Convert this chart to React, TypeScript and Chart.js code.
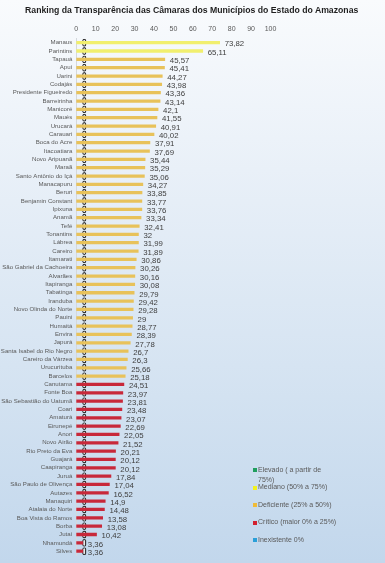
import React, { useEffect, useRef } from "react";
import { Chart, registerables } from "chart.js";

Chart.register(...registerables);

const TITLE = "Ranking da Transparência das Câmaras dos Municípios do Estado do Amazonas";

const MUNICIPALITIES = [
  "Manaus", "Parintins", "Tapauá", "Apuí", "Uarini", "Codajás", "Presidente Figueiredo",
  "Barreirinha", "Manicoré", "Maués", "Urucará", "Carauari", "Boca do Acre", "Itacoatiara",
  "Novo Aripuanã", "Maraã", "Santo Antônio do Içá", "Manacapuru", "Beruri", "Benjamin Constant",
  "Ipixuna", "Anamã", "Tefé", "Tonantins", "Lábrea", "Careiro", "Itamarati",
  "São Gabriel da Cachoeira", "Alvarães", "Itapiranga", "Tabatinga", "Iranduba",
  "Novo Olinda do Norte", "Pauini", "Humaitá", "Envira", "Japurá", "Santa Isabel do Rio Negro",
  "Careiro da Várzea", "Urucurituba", "Barcelos", "Canutama", "Fonte Boa",
  "São Sebastião do Uatumã", "Coari", "Amaturá", "Eirunepé", "Anori", "Novo Airão",
  "Rio Preto da Eva", "Guajará", "Caapiranga", "Juruá", "São Paulo de Olivença", "Autazes",
  "Manaquiri", "Atalaia do Norte", "Boa Vista do Ramos", "Borba", "Jutaí", "Nhamundá", "Silves",
];

const SCORES = [
  73.82, 65.11, 45.57, 45.41, 44.27, 43.98, 43.36,
  43.14, 42.1, 41.55, 40.91, 40.02, 37.91, 37.69,
  35.44, 35.29, 35.06, 34.27, 33.85, 33.77,
  33.76, 33.34, 32.41, 32, 31.99, 31.89, 30.86,
  30.26, 30.16, 30.08, 29.79, 29.42,
  29.28, 29, 28.77, 28.39, 27.78, 26.7,
  26.3, 25.66, 25.18, 24.51, 23.97,
  23.81, 23.48, 23.07, 22.69, 22.05, 21.52,
  20.21, 20.12, 20.12, 17.84, 17.04, 16.52,
  14.9, 14.48, 13.58, 13.08, 10.42, 3.36, 3.36,
];

// small marker column drawn on every row (value range)
const MARKER_FROM = 3.0;
const MARKER_TO = 5.2;

const X_MIN = 0;
const X_MAX = 100;
const X_STEP = 10;

const LEGEND_LABELS = [
  "Elevado ( a partir de 75%)",
  "Mediano (50% a 75%)",
  "Deficiente (25% a 50%)",
  "Crítico (maior 0% a 25%)",
  "Inexistente 0%",
];
const LEGEND_COLORS = ["#1f9e5e", "#f2f21e", "#f0bb38", "#d2202f", "#2a9fd8"];
const BAR_COLORS = ["#1f9e5e", "#f1ef6e", "#e8c25a", "#c8283a", "#2a9fd8"];

function classIndex(v: number): number {
  if (v >= 75) return 0;
  if (v >= 50) return 1;
  if (v >= 25) return 2;
  if (v > 0) return 3;
  return 4;
}

const fmt = (v: number) => String(v).replace(".", ",");

const valueLabelPlugin = {
  id: "valueLabels",
  afterDatasetsDraw(chart: any) {
    const meta = chart.getDatasetMeta(0);
    const ctx = chart.ctx;
    ctx.save();
    ctx.font = "7.8px 'Liberation Sans', Arial, sans-serif";
    ctx.fillStyle = "#404040";
    ctx.textAlign = "left";
    ctx.textBaseline = "middle";
    meta.data.forEach((bar: any, i: number) => {
      ctx.fillText(fmt(SCORES[i]), bar.x + 5, bar.y + 1.6);
    });
    ctx.restore();
  },
};

export default function App() {
  const canvasRef = useRef<HTMLCanvasElement | null>(null);

  useEffect(() => {
    if (!canvasRef.current) return;
    const chart = new Chart(canvasRef.current, {
      type: "bar",
      data: {
        labels: MUNICIPALITIES,
        datasets: [
          {
            data: SCORES,
            backgroundColor: SCORES.map((v) => BAR_COLORS[classIndex(v)]),
            barThickness: 2.6,
            grouped: false,
          } as any,
          {
            data: MUNICIPALITIES.map(() => [MARKER_FROM, MARKER_TO]),
            backgroundColor: "#ececec",
            borderColor: "#383838",
            borderWidth: 1.4,
            borderRadius: 2,
            borderSkipped: false,
            barPercentage: 0.95,
            categoryPercentage: 1,
            grouped: false,
          } as any,
        ],
      },
      options: {
        indexAxis: "y",
        animation: false,
        responsive: true,
        maintainAspectRatio: false,
        layout: { padding: { left: 0, right: 114.5, top: 0, bottom: 7.1 } },
        plugins: {
          legend: { display: false },
          tooltip: { enabled: false },
          title: { display: false },
        },
        scales: {
          x: {
            position: "top",
            min: X_MIN,
            max: X_MAX,
            ticks: {
              stepSize: X_STEP,
              color: "#595959",
              padding: 5,
              font: { family: "'Liberation Sans', Arial, sans-serif", size: 7 },
            },
            grid: { display: false, drawTicks: false },
            border: { display: false },
            afterFit(scale: any) {
              scale.height = 38.5;
            },
          },
          y: {
            ticks: {
              color: "#5a5a5a",
              padding: 4,
              autoSkip: false,
              font: { family: "'Liberation Sans', Arial, sans-serif", size: 6.1 },
            },
            grid: { display: false, drawTicks: false },
            border: { display: true, color: "#d4d8dc", width: 1 },
            afterFit(scale: any) {
              scale.width = 76.3;
            },
          },
        },
      },
      plugins: [valueLabelPlugin],
    } as any);
    return () => chart.destroy();
  }, []);

  return (
    <div
      style={{
        position: "fixed",
        left: 0,
        top: 0,
        width: 385,
        height: 563,
        background: "linear-gradient(to bottom, #f9fbfd 0%, #e9f0f8 30%, #d6e4f2 65%, #c2d7ec 100%)",
        fontFamily: "'Liberation Sans', Arial, sans-serif",
      }}
    >
      <canvas ref={canvasRef} style={{ position: "absolute", left: 0, top: 0, width: 385, height: 563 }} />
      <div
        style={{
          position: "absolute",
          left: 0,
          top: 4,
          width: 383.4,
          textAlign: "center",
          fontSize: 8.7,
          lineHeight: "12px",
          fontWeight: "bold",
          color: "#1f1f1f",
          whiteSpace: "nowrap",
        }}
      >
        {TITLE}
      </div>
      <div style={{ position: "absolute", left: 253, top: 464.5, width: 95 }}>
        {LEGEND_LABELS.map((label, i) => (
          <div
            key={label}
            style={{ display: "flex", alignItems: "flex-start", height: 17.6, overflow: "visible" }}
          >
            <span
              style={{
                display: "inline-block",
                width: 4,
                height: 4,
                marginTop: 3.5,
                marginRight: 1,
                background: LEGEND_COLORS[i],
                flex: "none",
              }}
            />
            <span style={{ fontSize: 7, lineHeight: "10.5px", color: "#595959", width: 80 }}>{label}</span>
          </div>
        ))}
      </div>
    </div>
  );
}
